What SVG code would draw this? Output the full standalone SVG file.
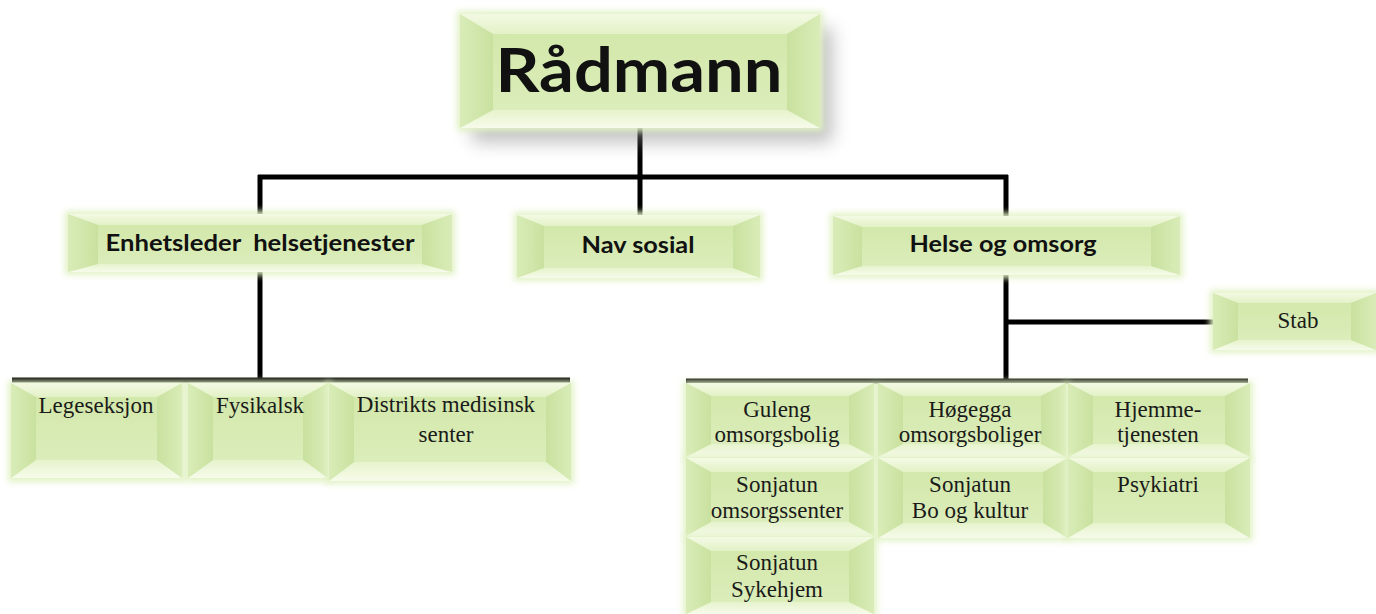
<svg xmlns="http://www.w3.org/2000/svg" width="1376" height="614" viewBox="0 0 1376 614">
<style>
.glow{fill:#e2f2c6;filter:url(#blur3)}
.bt{fill:url(#gTop)}
.bb{fill:url(#gBot)}
.bl{fill:url(#gLeft)}
.br{fill:url(#gRight)}
.bi{fill:url(#gIn)}
.hd{font-family:Lato,"Open Sans","DejaVu Sans",sans-serif;font-weight:700;fill:#111;text-anchor:middle}
.tx{font-family:"Liberation Serif","Times New Roman",serif;font-size:23px;fill:#1a1a1a;text-anchor:middle}
.ln{stroke:#000;stroke-width:5;fill:none}
</style>
<defs>
<filter id="blur3" x="-10%" y="-20%" width="120%" height="140%"><feGaussianBlur stdDeviation="3"/></filter>
<filter id="shadow" x="-20%" y="-30%" width="140%" height="160%"><feGaussianBlur stdDeviation="9"/></filter>
<linearGradient id="gTop" x1="0" y1="0" x2="0" y2="1"><stop offset="0" stop-color="#f3fae4"/><stop offset="1" stop-color="#e3f1c6"/></linearGradient>
<linearGradient id="gBot" x1="0" y1="0" x2="0" y2="1"><stop offset="0" stop-color="#e6f3cc"/><stop offset="1" stop-color="#f6fbea"/></linearGradient>
<linearGradient id="gLeft" x1="0" y1="0" x2="1" y2="0"><stop offset="0" stop-color="#d9ecb8"/><stop offset="1" stop-color="#c9e19f"/></linearGradient>
<linearGradient id="gRight" x1="0" y1="0" x2="1" y2="0"><stop offset="0" stop-color="#c9e19f"/><stop offset="1" stop-color="#d9ecb8"/></linearGradient>
<linearGradient id="gIn" x1="0" y1="0" x2="0" y2="1"><stop offset="0" stop-color="#d3e8ab"/><stop offset="1" stop-color="#dbedba"/></linearGradient>
</defs>

<g id="connectors">
<path class="ln" d="M640 126 V177 M258 177 H1008 M260 175 V216 M640 177 V216 M1006 175 V218"/>
<path class="ln" d="M260 272 V380 M12 380 H570"/>
<path class="ln" d="M1006 275 V381 M1006 322 H1216 M686 381 H1248"/>
</g>

<g id="radmann">
<rect x="472" y="28" width="360" height="114" fill="#8a8a8a" opacity="0.55" filter="url(#shadow)"/>
<rect class="glow" x="457" y="11" width="366" height="120"/>
<polygon class="bt" points="460,14 820,14 787,34 493,34"/>
<polygon class="bb" points="460,128 820,128 787,110 493,110"/>
<polygon class="bl" points="460,14 493,34 493,110 460,128"/>
<polygon class="br" points="820,14 787,34 787,110 820,128"/>
<rect class="bi" x="493" y="34" width="294" height="76"/>
<text class="hd" x="639" y="92" font-size="62" textLength="287" lengthAdjust="spacingAndGlyphs">Rådmann</text>
</g>

<g id="enhetsleder">
<rect class="glow" x="65" y="211" width="390" height="64"/>
<polygon class="bt" points="68,214 452,214 422,225 98,225"/>
<polygon class="bb" points="68,272 452,272 422,264 98,264"/>
<polygon class="bl" points="68,214 98,225 98,264 68,272"/>
<polygon class="br" points="452,214 422,225 422,264 452,272"/>
<rect class="bi" x="98" y="225" width="324" height="39"/>
<text class="hd" x="260" y="251" font-size="22" textLength="309" lengthAdjust="spacingAndGlyphs" xml:space="preserve">Enhetsleder  helsetjenester</text>
</g>

<g id="nav">
<rect class="glow" x="514" y="212" width="249" height="69"/>
<polygon class="bt" points="517,215 760,215 733,226 544,226"/>
<polygon class="bb" points="517,278 760,278 733,268 544,268"/>
<polygon class="bl" points="517,215 544,226 544,268 517,278"/>
<polygon class="br" points="760,215 733,226 733,268 760,278"/>
<rect class="bi" x="544" y="226" width="189" height="42"/>
<text class="hd" x="638" y="253" font-size="22" textLength="113" lengthAdjust="spacingAndGlyphs">Nav sosial</text>
</g>

<g id="helse">
<rect class="glow" x="830" y="213" width="353" height="65"/>
<polygon class="bt" points="833,216 1180,216 1151,227 862,227"/>
<polygon class="bb" points="833,275 1180,275 1151,266 862,266"/>
<polygon class="bl" points="833,216 862,227 862,266 833,275"/>
<polygon class="br" points="1180,216 1151,227 1151,266 1180,275"/>
<rect class="bi" x="862" y="227" width="289" height="39"/>
<text class="hd" x="1003" y="252" font-size="22" textLength="187" lengthAdjust="spacingAndGlyphs">Helse og omsorg</text>
</g>

<g id="stab">
<rect class="glow" x="1210" y="290" width="170" height="63"/>
<polygon class="bt" points="1213,293 1376,293 1351,303 1238,303"/>
<polygon class="bb" points="1213,350 1376,350 1351,340 1238,340"/>
<polygon class="bl" points="1213,293 1238,303 1238,340 1213,350"/>
<polygon class="br" points="1376,293 1351,303 1351,340 1376,350"/>
<rect class="bi" x="1238" y="303" width="113" height="37"/>
<text class="tx" x="1298" y="328">Stab</text>
</g>

<g id="legeseksjon">
<rect class="glow" x="8" y="381" width="178" height="101"/>
<polygon class="bt" points="11,383 182,383 157,397 36,397"/>
<polygon class="bb" points="11,478 182,478 157,460 36,460"/>
<polygon class="bl" points="11,383 36,397 36,460 11,478"/>
<polygon class="br" points="182,383 157,397 157,460 182,478"/>
<rect class="bi" x="36" y="397" width="121" height="63"/>
<text class="tx" x="96" y="413">Legeseksjon</text>
</g>

<g id="fysikalsk">
<rect class="glow" x="185" y="381" width="146" height="101"/>
<polygon class="bt" points="188,383 328,383 303,397 213,397"/>
<polygon class="bb" points="188,478 328,478 303,460 213,460"/>
<polygon class="bl" points="188,383 213,397 213,460 188,478"/>
<polygon class="br" points="328,383 303,397 303,460 328,478"/>
<rect class="bi" x="213" y="397" width="90" height="63"/>
<text class="tx" x="260" y="413">Fysikalsk</text>
</g>

<g id="distrikts">
<rect class="glow" x="326" y="381" width="248" height="103"/>
<polygon class="bt" points="329,383 571,383 546,397 354,397"/>
<polygon class="bb" points="329,481 571,481 546,462 354,462"/>
<polygon class="bl" points="329,383 354,397 354,462 329,481"/>
<polygon class="br" points="571,383 546,397 546,462 571,481"/>
<rect class="bi" x="354" y="397" width="192" height="65"/>
<text class="tx" x="446" y="412">Distrikts medisinsk</text>
<text class="tx" x="446" y="442">senter</text>
</g>

<g id="guleng">
<rect class="glow" x="683" y="381" width="194" height="79"/>
<polygon class="bt" points="686,383 874,383 849,396 711,396"/>
<polygon class="bb" points="686,457 874,457 849,444 711,444"/>
<polygon class="bl" points="686,383 711,396 711,444 686,457"/>
<polygon class="br" points="874,383 849,396 849,444 874,457"/>
<rect class="bi" x="711" y="396" width="138" height="48"/>
<text class="tx" x="777" y="417">Guleng</text>
<text class="tx" x="777" y="442">omsorgsbolig</text>
</g>

<g id="hogegga">
<rect class="glow" x="875" y="381" width="194" height="79"/>
<polygon class="bt" points="878,383 1066,383 1041,396 903,396"/>
<polygon class="bb" points="878,457 1066,457 1041,444 903,444"/>
<polygon class="bl" points="878,383 903,396 903,444 878,457"/>
<polygon class="br" points="1066,383 1041,396 1041,444 1066,457"/>
<rect class="bi" x="903" y="396" width="138" height="48"/>
<text class="tx" x="970" y="417">Høgegga</text>
<text class="tx" x="970" y="442">omsorgsboliger</text>
</g>

<g id="hjemmetjenesten">
<rect class="glow" x="1065" y="381" width="188" height="79"/>
<polygon class="bt" points="1068,383 1250,383 1225,396 1093,396"/>
<polygon class="bb" points="1068,457 1250,457 1225,444 1093,444"/>
<polygon class="bl" points="1068,383 1093,396 1093,444 1068,457"/>
<polygon class="br" points="1250,383 1225,396 1225,444 1250,457"/>
<rect class="bi" x="1093" y="396" width="132" height="48"/>
<text class="tx" x="1158" y="417">Hjemme-</text>
<text class="tx" x="1158" y="442">tjenesten</text>
</g>

<g id="sonjatun-omsorgssenter">
<rect class="glow" x="683" y="456" width="194" height="83"/>
<polygon class="bt" points="686,458 874,458 849,472 711,472"/>
<polygon class="bb" points="686,536 874,536 849,522 711,522"/>
<polygon class="bl" points="686,458 711,472 711,522 686,536"/>
<polygon class="br" points="874,458 849,472 849,522 874,536"/>
<rect class="bi" x="711" y="472" width="138" height="50"/>
<text class="tx" x="777" y="492">Sonjatun</text>
<text class="tx" x="777" y="518">omsorgssenter</text>
</g>

<g id="sonjatun-bo">
<rect class="glow" x="875" y="456" width="196" height="85"/>
<polygon class="bt" points="878,458 1068,458 1043,472 903,472"/>
<polygon class="bb" points="878,538 1068,538 1043,523 903,523"/>
<polygon class="bl" points="878,458 903,472 903,523 878,538"/>
<polygon class="br" points="1068,458 1043,472 1043,523 1068,538"/>
<rect class="bi" x="903" y="472" width="140" height="51"/>
<text class="tx" x="970" y="492">Sonjatun</text>
<text class="tx" x="970" y="518">Bo og kultur</text>
</g>

<g id="psykiatri">
<rect class="glow" x="1065" y="456" width="188" height="85"/>
<polygon class="bt" points="1068,458 1250,458 1225,472 1093,472"/>
<polygon class="bb" points="1068,538 1250,538 1225,523 1093,523"/>
<polygon class="bl" points="1068,458 1093,472 1093,523 1068,538"/>
<polygon class="br" points="1250,458 1225,472 1225,523 1250,538"/>
<rect class="bi" x="1093" y="472" width="132" height="51"/>
<text class="tx" x="1158" y="492">Psykiatri</text>
</g>

<g id="sonjatun-sykehjem">
<rect class="glow" x="683" y="535" width="194" height="82"/>
<polygon class="bt" points="686,537 874,537 849,551 711,551"/>
<polygon class="bb" points="686,614 874,614 849,602 711,602"/>
<polygon class="bl" points="686,537 711,551 711,602 686,614"/>
<polygon class="br" points="874,537 849,551 849,602 874,614"/>
<rect class="bi" x="711" y="551" width="138" height="51"/>
<text class="tx" x="777" y="570">Sonjatun</text>
<text class="tx" x="777" y="597">Sykehjem</text>
</g>
</svg>
